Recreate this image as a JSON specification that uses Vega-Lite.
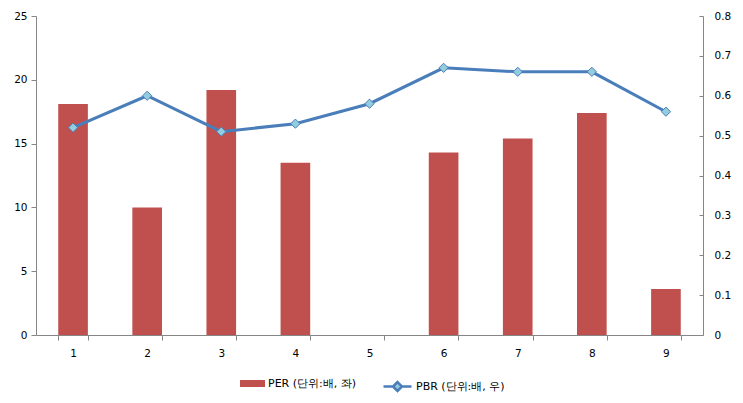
{
  "$schema": "https://vega.github.io/schema/vega-lite/v6.json",
  "width": 667,
  "height": 319,
  "autosize": {"type": "none"},
  "padding": {"left": 36, "top": 16, "right": 40, "bottom": 68},
  "config": {
    "view": {"stroke": null},
    "font": "DejaVu Sans",
    "axis": {
      "domainColor": "#868686",
      "tickColor": "#868686",
      "labelColor": "#000000",
      "labelFont": "DejaVu Sans",
      "labelFontSize": 10.5,
      "grid": false,
      "title": null
    },
    "legend": {
      "labelFont": "DejaVu Sans",
      "labelFontSize": 11,
      "labelColor": "#000000",
      "padding": 0,
      "title": null
    }
  },
  "data": {
    "values": [
      {"x": "1", "PER": 18.1, "PBR": 0.52},
      {"x": "2", "PER": 10.0, "PBR": 0.60},
      {"x": "3", "PER": 19.2, "PBR": 0.51},
      {"x": "4", "PER": 13.5, "PBR": 0.53},
      {"x": "5", "PER": 0, "PBR": 0.58},
      {"x": "6", "PER": 14.3, "PBR": 0.67},
      {"x": "7", "PER": 15.4, "PBR": 0.66},
      {"x": "8", "PER": 17.4, "PBR": 0.66},
      {"x": "9", "PER": 3.6, "PBR": 0.56}
    ]
  },
  "encoding": {
    "x": {
      "field": "x",
      "type": "ordinal",
      "scale": {"paddingInner": 0.6, "paddingOuter": 0.3},
      "axis": {
        "labelAngle": 0,
        "tickBand": "extent",
        "tickSize": 5,
        "labelPadding": 8
      }
    }
  },
  "layer": [
    {
      "mark": {"type": "bar", "color": "#C0504D"},
      "encoding": {
        "y": {
          "field": "PER",
          "type": "quantitative",
          "scale": {"domain": [0, 25]},
          "axis": {"values": [0, 5, 10, 15, 20, 25], "tickSize": 5, "labelPadding": 4}
        },
        "fill": {
          "datum": "PER (단위:배, 좌)",
          "scale": {"range": ["#C0504D"]},
          "legend": {
            "orient": "none",
            "legendX": 204,
            "legendY": 355,
            "symbolType": "M-1,-0.28H1V0.28H-1Z",
            "symbolSize": 625,
            "symbolStrokeWidth": 0,
            "labelOffset": 3
          }
        }
      }
    },
    {
      "encoding": {
        "y": {
          "field": "PBR",
          "type": "quantitative",
          "scale": {"domain": [0, 0.8]},
          "axis": {
            "orient": "right",
            "values": [0, 0.1, 0.2, 0.3, 0.4, 0.5, 0.6, 0.7, 0.8],
            "labelExpr": "datum.value == 0 ? '0' : format(datum.value, '.1f')",
            "tickSize": -4,
            "labelPadding": 15
          }
        }
      },
      "layer": [
        {
          "mark": {"type": "line", "color": "#4A7EBB", "strokeWidth": 3},
          "encoding": {
            "stroke": {
              "datum": "PBR (단위:배, 우)",
              "scale": {"range": ["#4A7EBB"]},
              "legend": {
                "orient": "none",
                "legendX": 346,
                "legendY": 355,
                "symbolType": "M-1,0H-0.32M0.32,0H1M0,-0.32L0.32,0L0,0.32L-0.32,0Z",
                "symbolSize": 784,
                "symbolStrokeWidth": 2.5,
                "symbolFillColor": "#93CDDD",
                "labelOffset": 3
              }
            }
          }
        },
        {
          "mark": {"type": "point", "shape": "diamond", "filled": true, "fill": "#93CDDD", "stroke": "#4A7EBB", "strokeWidth": 1, "size": 85, "opacity": 1}
        }
      ]
    }
  ],
  "resolve": {"scale": {"y": "independent"}}
}
